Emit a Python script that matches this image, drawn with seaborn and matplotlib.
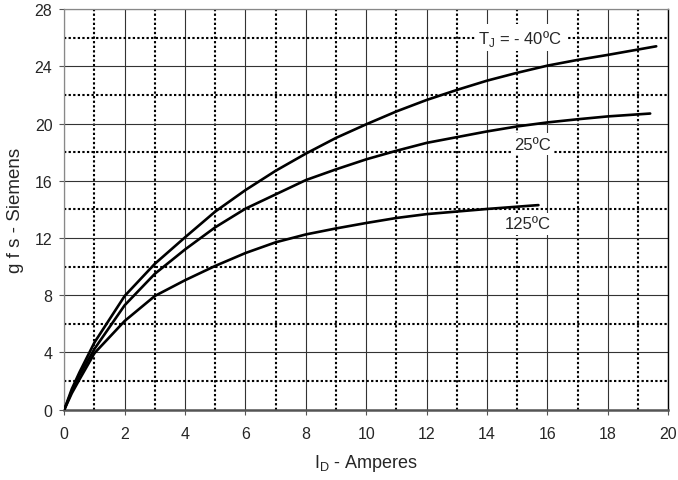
import numpy as np
import pandas as pd
import matplotlib
matplotlib.use('Agg')
import matplotlib.pyplot as plt
import seaborn as sns

# (I_D in A, g_fs in S)
x_m40 = [0, 0.25, 0.5, 1, 2, 3, 4, 5, 6, 7, 8, 9, 10, 11, 12, 13, 14, 15, 16, 17, 18, 19.6]
g_m40 = [0, 1.45, 2.6, 4.7, 7.95, 10.2, 12.05, 13.85, 15.35, 16.7, 17.9, 19.0, 19.95,
         20.85, 21.65, 22.35, 23.0, 23.55, 24.05, 24.45, 24.8, 25.4]

x_25 = [0, 0.25, 0.5, 1, 2, 3, 4, 5, 6, 7, 8, 9, 10, 11, 12, 13, 14, 15, 16, 17, 18, 19.4]
g_25 = [0, 1.3, 2.4, 4.25, 7.3, 9.5, 11.2, 12.75, 14.05, 15.05, 16.05, 16.8, 17.5,
        18.1, 18.65, 19.05, 19.45, 19.8, 20.08, 20.3, 20.5, 20.7]

x_125 = [0, 0.25, 0.5, 1, 2, 3, 4, 5, 6, 7, 8, 9, 10, 11, 12, 13, 14, 15.7]
g_125 = [0, 1.15, 2.1, 3.95, 6.2, 7.95, 9.05, 10.05, 10.95, 11.7, 12.25, 12.67,
         13.05, 13.4, 13.67, 13.85, 14.03, 14.3]

curve_labels = ['T$_\\mathregular{J}$ = - 40ºC', '25ºC', '125ºC']
label_x = [15.1, 15.5, 15.35]
label_y = [26.0, 18.57, 12.98]

x_ticks = list(range(0, 21, 2))
y_ticks = list(range(0, 29, 4))

df = pd.concat([
    pd.DataFrame({'I_D': x_m40, 'gfs': g_m40, 'T': '-40'}),
    pd.DataFrame({'I_D': x_25, 'gfs': g_25, 'T': '25'}),
    pd.DataFrame({'I_D': x_125, 'gfs': g_125, 'T': '125'}),
], ignore_index=True)

sns.set_style('white')
plt.rcParams['font.family'] = ['Liberation Sans', 'DejaVu Sans']
plt.rcParams['mathtext.fontset'] = 'custom'
plt.rcParams['mathtext.rm'] = 'Liberation Sans'

fig = plt.figure(figsize=(6.78, 4.81), dpi=100)
ax = fig.add_axes([0.0948, 0.1462, 0.8909, 0.8328])

sns.lineplot(data=df, x='I_D', y='gfs', units='T', estimator=None, sort=False,
             color='black', linewidth=1.9, ax=ax, zorder=4)

ax.set_xlim(0, 20)
ax.set_ylim(0, 28)
ax.set_xticks(x_ticks)
ax.set_yticks(y_ticks)
ax.set_xticks(np.arange(1, 20, 2), minor=True)
ax.set_yticks(np.arange(2, 28, 4), minor=True)
ax.tick_params(which='major', direction='out', length=3.5, width=0.8, color='#555555',
               labelsize=11.5, bottom=True, left=True)
ax.tick_params(axis='x', which='major', pad=8)
ax.tick_params(axis='y', which='major', pad=5)
ax.tick_params(which='minor', length=0)

ax.grid(which='major', linestyle='-', color='#333333', linewidth=0.8)
ax.grid(which='minor', linestyle=(0, (1.1, 1.1)), color='black', linewidth=1.5)
ax.set_axisbelow(True)

for side in ['left', 'top']:
    ax.spines[side].set_color('#888888')
    ax.spines[side].set_linewidth(0.9)
ax.spines['bottom'].set_color('#555555')
ax.spines['bottom'].set_linewidth(1.8)
ax.spines['right'].set_color('black')
ax.spines['right'].set_linewidth(1.0)

for txt, lx, ly in zip(curve_labels, label_x, label_y):
    ax.text(lx, ly, txt, ha='center', va='center', fontsize=12, zorder=5,
            bbox=dict(facecolor='white', edgecolor='none', pad=2.5))

ax.set_xlabel('I$_\\mathregular{D}$ - Amperes', fontsize=13, labelpad=8)
ax.set_ylabel('g f s - Siemens', fontsize=13.5, labelpad=8)
if ax.get_legend() is not None:
    ax.get_legend().remove()

fig.savefig('out.png', dpi=100)
